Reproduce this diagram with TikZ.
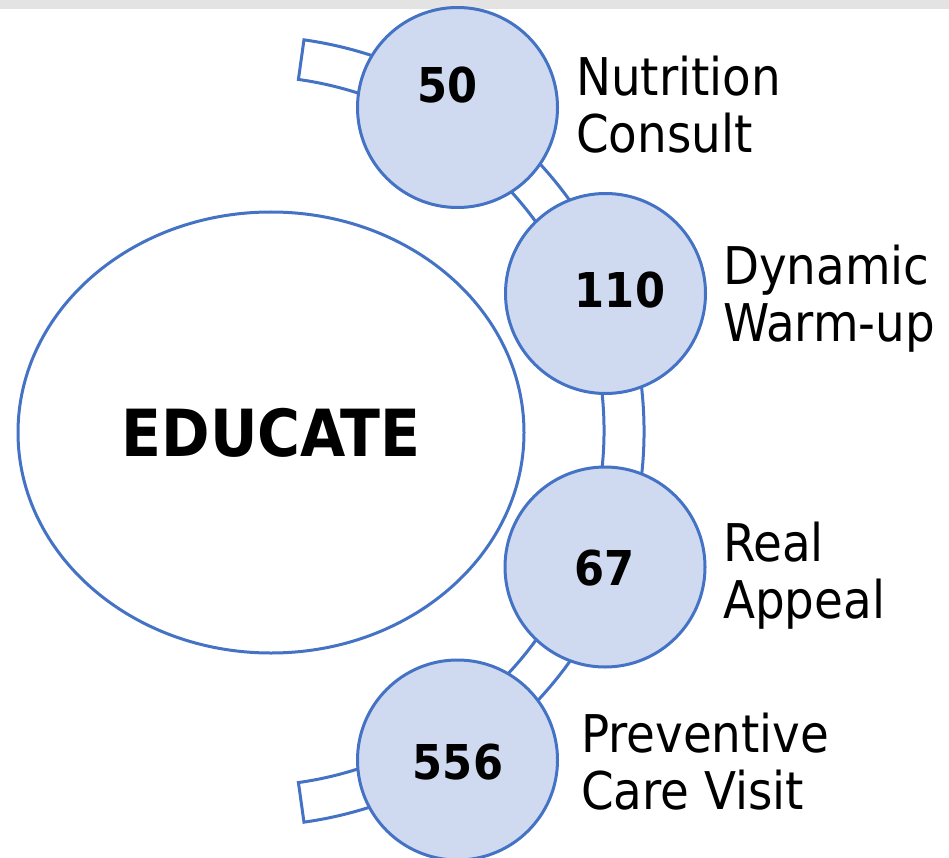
\documentclass[tikz,border=0pt]{standalone}
\usepackage{fontspec}
\setmainfont{DejaVu Sans Condensed}
\usetikzlibrary{shapes.geometric,calc}
\definecolor{edgeblue}{RGB}{68,114,196}
\definecolor{circfill}{RGB}{207,218,240}
\definecolor{topgray}{RGB}{227,227,227}
\begin{document}
\begin{tikzpicture}[x=1pt,y=-1pt,
  bluedge/.style={draw=edgeblue, line width=3pt},
  numcircle/.style={circle, bluedge, fill=circfill, minimum size=200pt, inner sep=0pt},
  numtext/.style={font=\bfseries\fontsize{48}{48}\selectfont, inner sep=0pt},
  lbl/.style={anchor=north west, align=left, inner sep=0pt, font=\fontsize{52}{57}\selectfont}]
\useasboundingbox (0,0) rectangle (949,858);
\fill[topgray] (0,0) rectangle (949,9);
% arc band
\coordinate (arcc) at (249,431);
\draw[bluedge, fill=white, line join=miter]
  ($(arcc)+(82:395)$) arc[start angle=82, end angle=-82, radius=395]
  -- ($(arcc)+(-82:355)$) arc[start angle=-82, end angle=82, radius=355] -- cycle;
% central ellipse
\node[ellipse, bluedge, fill=white, minimum width=506pt, minimum height=441pt, inner sep=0pt,
  font=\bfseries\fontsize{65}{65}\selectfont] (edu) at (271,432.5) {EDUCATE};
% circles
\node[numcircle] (c1) at (457.5,107.5) {};
\node[numcircle] (c2) at (605.5,293.5) {};
\node[numcircle] (c3) at (605,567) {};
\node[numcircle] (c4) at (457.5,760) {};
\node[numtext] (n1) at (447.5,85) {50};
\node[numtext] (n2) at (620,290.5) {110};
\node[numtext] (n3) at (604.5,568.5) {67};
\node[numtext] (n4) at (458,762.5) {556};
% labels
\node[lbl] (l1) at (576,56) {Nutrition\\Consult};
\node[lbl] (l2) at (723,245) {Dynamic\\Warm-up};
\node[lbl] (l3) at (723,522) {Real\\Appeal};
\node[lbl] (l4) at (581,713) {Preventive\\Care Visit};
\end{tikzpicture}
\end{document}
